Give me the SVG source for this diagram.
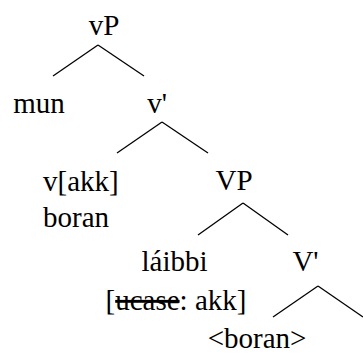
<svg xmlns="http://www.w3.org/2000/svg" width="363" height="354" viewBox="0 0 363 354">
<style>
.t{font-family:'Liberation Serif','Times New Roman',serif;font-size:29px;fill:#000}
.m{text-anchor:middle}
.c line{stroke:#000;stroke-width:1.3}
</style>
<rect width="363" height="354" fill="#fff"/>
<g id="vP"><text class="t m" x="104" y="35">vP</text></g>
<g id="mun"><text class="t m" x="39" y="113">mun</text></g>
<g id="v1"><text class="t m" x="157" y="113">v'</text></g>
<g id="vakk"><text class="t" x="43" y="191">v[akk]</text><text class="t" x="43" y="227">boran</text></g>
<g id="VP"><text class="t m" x="234" y="190">VP</text></g>
<g id="laibbi"><text class="t m" x="174.5" y="271">láibbi</text><text class="t m" x="176" y="310">[<tspan text-decoration="line-through">ucase</tspan>: akk]</text></g>
<g id="V1"><text class="t m" x="305.5" y="271">V'</text></g>
<g id="boran2"><text class="t m" x="257" y="348">&lt;boran&gt;</text></g>
<g id="connectors" class="c">
<line x1="98" y1="45" x2="53" y2="76"/><line x1="98" y1="45" x2="144" y2="76"/>
<line x1="162" y1="122" x2="117" y2="153"/><line x1="162" y1="122" x2="208" y2="153"/>
<line x1="243" y1="203" x2="198" y2="235"/><line x1="243" y1="203" x2="288" y2="235"/>
<line x1="318" y1="286" x2="273" y2="317"/><line x1="318" y1="286" x2="363" y2="317"/>
</g>
</svg>
